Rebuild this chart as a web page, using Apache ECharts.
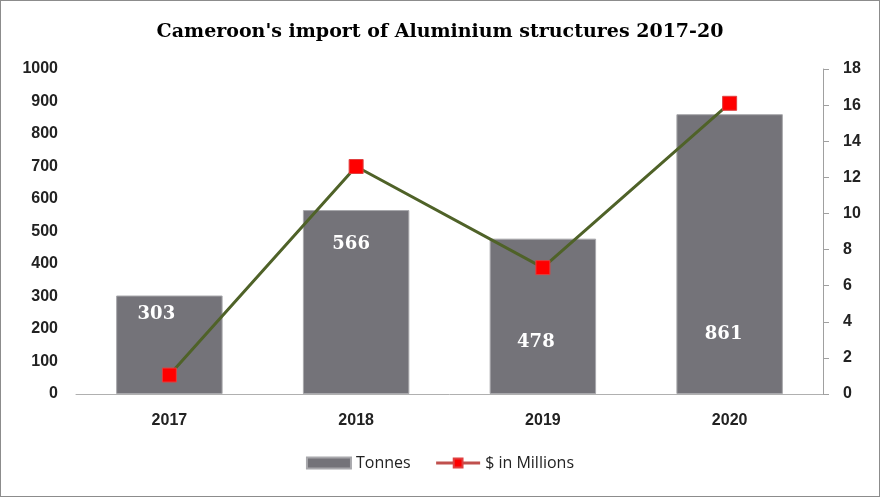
<!DOCTYPE html>
<html><head><meta charset="utf-8">
<script src="https://cdn.jsdelivr.net/npm/echarts@6/dist/echarts.min.js"></script>
<style>html,body{margin:0;padding:0;background:#fff}#c{width:880px;height:497px;box-sizing:border-box;border:1px solid #8c8c8c}</style>
</head><body><div id="c"></div>
<script>
const categories = ['2017', '2018', '2019', '2020'];
const tonnes = [303, 566, 478, 861];
const dollarsMillions = [1.05, 12.6, 7.0, 16.1];
const leftTicks = [0, 1000, 100];
const rightTicks = [0, 18, 2];

const labelOffsets = [[-13, 5], [-5, 20], [-7, 90], [-6, 206]];

const chart = echarts.init(document.getElementById('c'));
chart.setOption({
  animation: false,
  title: {
    text: "Cameroon's import of Aluminium structures 2017-20",
    left: 'center', top: 17,
    textStyle: { fontFamily: 'DejaVu Serif', fontWeight: 'bold', fontSize: 19, color: '#000' }
  },
  legend: {
    bottom: 20, left: 'center', itemGap: 24, itemWidth: 44, itemHeight: 11,
    textStyle: { fontFamily: 'Open Sans', fontSize: 16, color: '#222' },
    data: [
      { name: 'Tonnes', icon: 'rect' },
      { name: '$ in Millions', lineStyle: { color: '#c0504d', width: 3 } }
    ]
  },
  grid: { left: 75, right: 56, top: 68, bottom: 102 },
  xAxis: {
    type: 'category', data: categories,
    axisLine: { lineStyle: { color: '#b0b0b0' } },
    axisTick: { show: false },
    axisLabel: { fontFamily: 'Liberation Sans', fontWeight: 'bold', fontSize: 16, color: '#222', margin: 19 }
  },
  yAxis: [
    {
      type: 'value', min: leftTicks[0], max: leftTicks[1], interval: leftTicks[2],
      splitLine: { show: false }, axisLine: { show: false }, axisTick: { show: false },
      axisLabel: { fontFamily: 'Liberation Sans', fontWeight: 'bold', fontSize: 16, color: '#222', margin: 18,
        formatter: v => String(v) }
    },
    {
      type: 'value', min: rightTicks[0], max: rightTicks[1], interval: rightTicks[2],
      splitLine: { show: false },
      axisLine: { show: true, lineStyle: { color: '#a0a0a0' } },
      axisTick: { show: true, length: 6, lineStyle: { color: '#a0a0a0' } },
      axisLabel: { fontFamily: 'Liberation Sans', fontWeight: 'bold', fontSize: 16, color: '#222', margin: 20 }
    }
  ],
  series: [
    {
      name: 'Tonnes', type: 'bar', barWidth: '57%',
      itemStyle: { color: '#747379', borderColor: '#a8a8ac', borderWidth: 1 },
      data: tonnes.map((v, i) => ({
        value: v,
        label: { show: true, position: 'insideTop', offset: labelOffsets[i],
          fontFamily: 'DejaVu Serif', fontWeight: 'bold', fontSize: 18, color: '#fff' }
      }))
    },
    {
      name: '$ in Millions', type: 'line', yAxisIndex: 1, data: dollarsMillions,
      lineStyle: { color: '#4f6228', width: 3 },
      symbol: 'rect', symbolSize: 14,
      itemStyle: { color: '#ff0000', borderColor: '#e04040', borderWidth: 1 }
    }
  ]
});
</script></body></html>
